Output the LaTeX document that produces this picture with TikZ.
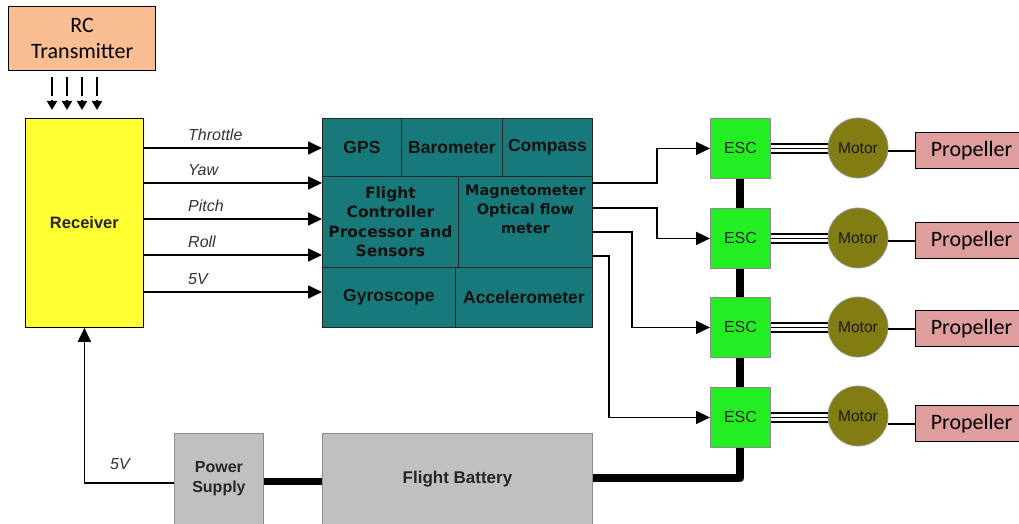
\documentclass[tikz,border=0pt]{standalone}
\usepackage{fontspec}
\setmainfont{Liberation Sans}
\newfontfamily\calfont{Carlito}
\newfontfamily\heavyfont{DejaVu Sans}
\usetikzlibrary{arrows.meta,calc}
\definecolor{rcfill}{HTML}{FBBD92}
\definecolor{rxfill}{HTML}{FFFF33}
\definecolor{fcfill}{HTML}{18797A}
\definecolor{escfill}{HTML}{22EE22}
\definecolor{motfill}{HTML}{817D12}
\definecolor{propfill}{HTML}{DF9E9E}
\definecolor{grayfill}{HTML}{C0C0C0}
\definecolor{cellink}{HTML}{111111}
\tikzset{
  box/.style={draw, line width=0.9pt, inner sep=0pt, anchor=north west, align=center},
  cell/.style={box, draw=black!85, fill=fcfill, text=cellink, font=\fontsize{17.5}{19}\selectfont\bfseries},
  sig/.style={line width=1.7pt, -{Triangle[length=14pt,width=13pt]}},
  lbl/.style={font=\fontsize{16}{18}\selectfont\itshape, text=black!80, anchor=west, inner sep=0pt},
  escbox/.style={box, draw=black!45, fill=escfill, minimum width=60pt, minimum height=60pt, font=\fontsize{16}{17}\selectfont, text=black!85},
  motor/.style={circle, draw=black!40, line width=0.8pt, fill=motfill, minimum size=60pt, inner sep=0pt, font=\fontsize{15.5}{16}\selectfont, text=black!90},
  prop/.style={box, line width=1.2pt, fill=propfill, minimum width=112pt, minimum height=36pt, font=\calfont\fontsize{22}{24}\selectfont},
  graybox/.style={box, draw=black!45, fill=grayfill, font=\fontsize{16}{20}\selectfont\bfseries, text=black!85},
}
\begin{document}
\begin{tikzpicture}[x=1pt,y=-1pt]
\useasboundingbox (0,0) rectangle (1019,524);
\clip (0,0) rectangle (1019,524);
% RC transmitter
\node[box, line width=1.4pt, fill=rcfill, minimum width=147pt, minimum height=64pt, font=\calfont\fontsize{22}{26}\selectfont] (rc) at (8,6) {RC\\Transmitter};
% Receiver
\node[box, line width=0.8pt, fill=rxfill, minimum width=118pt, minimum height=209pt, font=\fontsize{16.5}{18}\selectfont\bfseries, text=black!85] (rx) at (25,118) {Receiver};
% dashed arrows from transmitter
\foreach \xx in {52,67,82,97}{
  \coordinate (t\xx) at (\xx,70);
  \draw[line width=1.8pt, dash pattern=on 19pt off 4pt, shorten <=7pt, shorten >=8pt, -{Triangle[length=9pt,width=10pt]}] (t\xx) -- (t\xx |- rx.north);
}
% flight controller
\node[box, draw=black!85, fill=fcfill, minimum width=270pt, minimum height=209pt] (fc) at (322,118) {};
\node[cell, minimum width=79pt, minimum height=58pt] (gps) at (322,118) {GPS};
\node[cell, minimum width=101pt, minimum height=58pt] (baro) at (401,118) {Barometer};
\node[cell, minimum width=90pt, minimum height=58pt] (comp) at (502,118) {Compass};
\node[cell, minimum width=136pt, minimum height=91pt, font=\heavyfont\fontsize{15.5}{19.5}\selectfont\bfseries] (fcp) at (322,176) {Flight\\Controller\\Processor and\\Sensors};
\node[cell, minimum width=134pt, minimum height=91pt, font=\heavyfont\fontsize{14.5}{19}\selectfont\bfseries] (mag) at (458,176) {Magnetometer\\Optical flow\\meter\\[6pt]};
\node[cell, minimum width=133pt, minimum height=60pt] (gyro) at (322,267) {Gyroscope};
\node[cell, minimum width=137pt, minimum height=60pt] (acc) at (455,267) {Accelerometer};
% receiver -> FC signals
\foreach \yy/\txt in {148/Throttle,183/Yaw,219/Pitch,255/Roll,292/5V}{
  \coordinate (s\yy) at (0,\yy);
  \draw[sig] (rx.east |- s\yy) -- (fc.west |- s\yy);
  \node[lbl] at (188,\yy-13) {\txt};
}
% ESCs
\node[escbox] (e1) at (710,118) {ESC};
\node[escbox] (e2) at (710,208) {ESC};
\node[escbox] (e3) at (710,297) {ESC};
\node[escbox] (e4) at (710,387) {ESC};
% FC -> ESC signals
\coordinate (o1) at (592,183);
\coordinate (o2) at (592,208);
\coordinate (o3) at (592,232);
\coordinate (o4) at (592,256);
\draw[sig] (o1) -- (657,183) |- (e1.west);
\draw[sig] (o2) -- (657,208) |- (e2.west);
\draw[sig] (o3) -- (632,232) |- (e3.west);
\draw[sig] (o4) -- (609,256) |- (e4.west);
% motors and propellers
\foreach \i/\yy/\py in {1/148/132,2/238/222,3/327/310,4/416/405}{
  \node[motor] (m\i) at (858,\yy) {Motor};
  \node[prop] (p\i) at (915,\py) {Propeller};
  \foreach \d in {-4.5,0,4.5}{
    \draw[line width=1.8pt] ([yshift=\d pt]e\i.east) -- ([yshift=\d pt]e\i.east -| m\i.west);
  }
  \draw[line width=2pt] (m\i.east |- p\i.west) -- (p\i.west);
}
% power
\node[graybox, minimum width=89pt, minimum height=91pt] (ps) at (174,433) {Power\\Supply};
\node[graybox, minimum width=270pt, minimum height=91pt, font=\fontsize{17}{20}\selectfont\bfseries] (bat) at (322,433) {Flight Battery};
\draw[line width=8pt] (e1.south) -- (e2.north);
\draw[line width=8pt] (e2.south) -- (e3.north);
\draw[line width=8pt] (e3.south) -- (e4.north);
\draw[line width=8pt, line join=round] ([yshift=1pt]bat.east) -| (e4.south);
\draw[line width=7pt] ([yshift=-3pt]ps.east) -- ([yshift=-3pt]bat.west);
\draw[sig] ([yshift=-4pt]ps.west) -| (rx.south);
\node[lbl] at (110,464) {5V};
\end{tikzpicture}
\end{document}
